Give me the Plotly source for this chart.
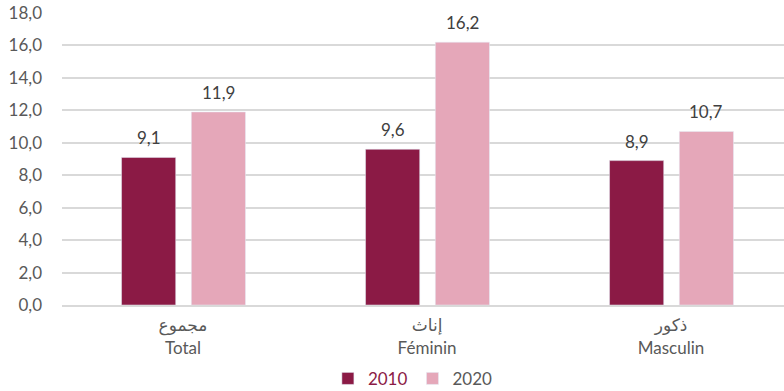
import plotly.graph_objects as go

categories = ["مجموع<br>Total", "إناث<br>Féminin", "ذكور<br>Masculin"]
values_2010 = [9.1, 9.6, 8.9]
values_2020 = [11.9, 16.2, 10.7]

c2010 = "#8B1A45"
c2020 = "#E5A7B9"
grey = "#595959"
font_family = "Lato, DejaVu Sans, sans-serif"

xs = list(range(len(categories)))
bar_w = 0.222
off_2010 = -0.141
off_2020 = 0.145

fig = go.Figure()
fig.add_trace(go.Bar(x=xs, y=values_2010, name="<span style='color:%s'>2010</span>" % c2010,
                     marker_color=c2010, width=bar_w, offset=off_2010 - bar_w / 2))
fig.add_trace(go.Bar(x=xs, y=values_2020, name="2020", marker_color=c2020,
                     width=bar_w, offset=off_2020 - bar_w / 2))

# value labels above the bars
for off, vals in [(off_2010, values_2010), (off_2020, values_2020)]:
    for i, v in enumerate(vals):
        fig.add_annotation(x=i + off, y=v, text=("%.1f" % v).replace(".", ","),
                           showarrow=False, yanchor="bottom", yshift=7,
                           font=dict(size=17, color="#404040", family=font_family))

fig.update_layout(
    width=784, height=391,
    margin=dict(l=62, r=0, t=13, b=86, autoexpand=False),
    plot_bgcolor="white", paper_bgcolor="white",
    barmode="group",
    separators=", ",
    font=dict(family=font_family, size=17, color=grey),
    showlegend=True,
    legend=dict(orientation="h", x=0.486, xanchor="center",
                y=-0.253, yanchor="middle",
                font=dict(size=17, color=grey), itemwidth=30,
                traceorder="normal"),
    xaxis=dict(tickmode="array", tickvals=xs, ticktext=categories,
               range=[-0.496, 2.463], showgrid=False, showline=True,
               linecolor="#D9D9D9", linewidth=2, ticks="", automargin=False,
               ticklabelstandoff=4,
               tickfont=dict(size=17, color=grey)),
    yaxis=dict(range=[0, 18], dtick=2, tickformat=".1f", showgrid=True,
               gridcolor="#D9D9D9", gridwidth=2, zeroline=False,
               showline=False, ticks="", ticklen=0, automargin=False,
               ticklabelstandoff=19, ticklabeloverflow="allow",
               tickfont=dict(size=17, color=grey)),
)

# drop the default page margin so the figure sits at the window's corner
fig.write_html("out.html", config={"displayModeBar": False},
               post_script="document.body.style.margin='0';")
